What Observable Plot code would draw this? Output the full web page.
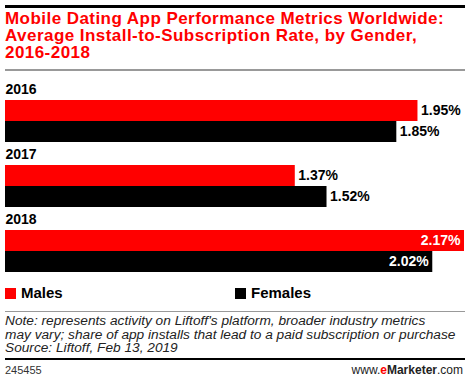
<!DOCTYPE html>
<html><head><meta charset="utf-8">
<script src="https://cdn.jsdelivr.net/npm/d3@7"></script>
<script src="https://cdn.jsdelivr.net/npm/@observablehq/plot@0.6"></script>
<style>
body{margin:0;background:#fff;font-family:"Liberation Sans",Arial,sans-serif;}
#wrap{position:relative;width:470px;height:382px;overflow:hidden;}
.abs{position:absolute;}
#title{left:5px;top:10px;width:465px;color:#f00;font-weight:bold;font-size:17px;letter-spacing:0.45px;line-height:17px;white-space:nowrap;}
.rule{position:absolute;left:5px;width:460px;}
#legend{left:5px;top:284px;width:460px;font-weight:bold;font-size:15px;}
.key{position:absolute;top:0;white-space:nowrap;}
.sw{display:inline-block;width:11px;height:11px;vertical-align:-1px;margin-right:5px;}
#note{left:5px;top:314px;width:465px;font-style:italic;font-size:13.7px;line-height:13.7px;color:#222;white-space:nowrap;}
#id{left:5px;top:364px;font-size:11px;color:#333;}
#brand{right:7px;top:363px;font-size:12px;color:#222;}
</style></head>
<body><div id="wrap">
<div class="rule" style="top:5px;height:3px;background:#000"></div>
<div id="title" class="abs">Mobile Dating App Performance Metrics Worldwide:<br>Average Install-to-Subscription Rate, by Gender,<br>2016-2018</div>
<div class="rule" style="top:69px;height:2px;background:#999"></div>
<div id="chart" class="abs" style="left:0;top:78px"></div>
<div id="legend" class="abs"></div>
<div class="rule" style="top:311px;height:1px;background:#999"></div>
<div id="note" class="abs">Note: represents activity on Liftoff's platform, broader industry metrics<br>may vary; share of app installs that lead to a paid subscription or purchase<br>Source: Liftoff, Feb 13, 2019</div>
<div class="rule" style="top:358px;height:2px;background:#000"></div>
<div id="id" class="abs">245455</div>
<div id="brand" class="abs">www.<b style="color:#f00">e</b><b>Marketer</b>.com</div>
</div>
<script>
const years = ["2016", "2017", "2018"];
const genders = ["Males", "Females"];
const colors = ["#ff0000", "#000000"];
const males = [1.95, 1.37, 2.17];
const females = [1.85, 1.52, 2.02];

const data = [];
years.forEach((y, i) => {
  data.push({year: y, gender: "Males", value: males[i]});
  data.push({year: y, gender: "Females", value: females[i]});
});
const xMax = d3.max(data, d => d.value);
const W = 470, mL = 5, mR = 6;
const xs = d => mL + d / xMax * (W - mL - mR);
const fmt = v => v.toFixed(2) + "%";
const inside = d => xs(d.value) + 42 > W;

const chart = Plot.plot({
  width: W, height: 196,
  marginLeft: mL, marginRight: mR, marginTop: 5, marginBottom: 2,
  style: {fontFamily: "'Liberation Sans', Arial, sans-serif", background: "transparent"},
  x: {domain: [0, xMax], axis: null},
  y: {domain: genders, axis: null, padding: 0, insetTop: 15},
  fy: {domain: years, axis: null, paddingInner: 0.1145, paddingOuter: 0},
  color: {domain: genders, range: colors},
  marks: [
    Plot.barX(data, {x: "value", y: "gender", fy: "year", fill: "gender"}),
    Plot.text(data.filter(d => !inside(d)), {x: "value", y: "gender", fy: "year",
      text: d => fmt(d.value), textAnchor: "start", dx: 3,
      fill: "#000", fontWeight: "bold", fontSize: 14}),
    Plot.text(data.filter(inside), {x: "value", y: "gender", fy: "year",
      text: d => fmt(d.value), textAnchor: "end", dx: -4,
      fill: "#fff", fontWeight: "bold", fontSize: 14}),
    Plot.text(years, {fy: d => d, text: d => d, frameAnchor: "top-left", dy: 0,
      fontWeight: "bold", fontSize: 14, fill: "#000"})
  ]
});
document.getElementById("chart").appendChild(chart);

const lg = document.getElementById("legend");
const pos = [0, 230];
genders.forEach((g, i) => {
  const k = document.createElement("div");
  k.className = "key";
  k.style.left = pos[i] + "px";
  k.innerHTML = `<span class="sw" style="background:${colors[i]}"></span>${g}`;
  lg.appendChild(k);
});
</script>
</body></html>
